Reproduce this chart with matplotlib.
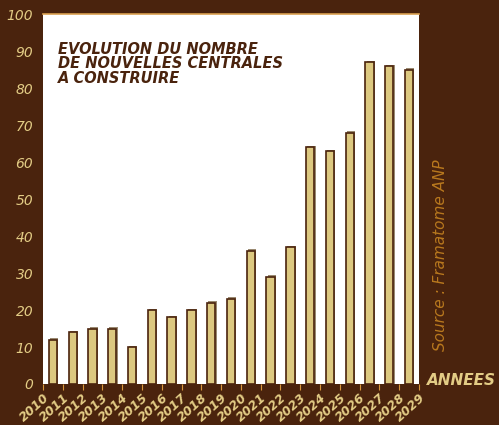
import matplotlib
matplotlib.use("Agg")
import matplotlib.pyplot as plt
import matplotlib.transforms as mtransforms
import numpy as np

YEARS = [str(y) for y in range(2010, 2030)]
VALUES = [12, 14, 15, 15, 10, 20, 18, 20, 22, 23, 36, 29, 37, 64, 63, 68, 87, 86, 85]
Y_TICKS = list(range(0, 101, 10))

BG = "#4a230d"
CREAM = "#e3cc85"
BAR = "#dcc880"
EDGE = "#4a230d"

fig = plt.figure(figsize=(4.99, 4.25), dpi=100, facecolor=BG)
ax = fig.add_axes([0.0862, 0.0965, 0.7535, 0.870])
ax.set_facecolor("white")

x = np.arange(len(VALUES)) + 0.5
# shadow
ax.bar(x + 0.06, np.array(VALUES) + 0.4, width=0.42, color="#9a8a72", zorder=2)
ax.bar(x, VALUES, width=0.42, color=BAR, edgecolor=EDGE, linewidth=1.2, zorder=3)

ax.set_xlim(0, len(VALUES))
ax.set_ylim(0, 100)
ax.set_xticks(np.arange(len(YEARS)))
ax.set_xticklabels(YEARS, rotation=42, ha="right", rotation_mode="anchor",
                   fontsize=9, color=CREAM, fontweight="bold", fontstyle="italic")
shift = mtransforms.ScaledTranslation(7 / 72, 0, fig.dpi_scale_trans)
for lbl in ax.get_xticklabels():
    lbl.set_transform(lbl.get_transform() + shift)
ax.set_yticks(Y_TICKS)
ax.set_yticklabels([str(v) for v in Y_TICKS], fontsize=10, color=CREAM, fontstyle="italic")
ax.tick_params(axis="x", colors="#d9953a", length=4, width=0.8, labelcolor=CREAM, pad=1)
ax.tick_params(axis="y", length=0, pad=7, labelcolor=CREAM)
for s in ["left", "right", "bottom"]:
    ax.spines[s].set_visible(False)
ax.spines["top"].set_color("#d9a050")
ax.spines["top"].set_linewidth(1.2)

ax.text(0.04, 0.925, "EVOLUTION DU NOMBRE\nDE NOUVELLES CENTRALES\nA CONSTRUIRE",
        transform=ax.transAxes, ha="left", va="top", fontsize=10.5,
        fontweight="bold", fontstyle="italic", color=EDGE, linespacing=0.95)

fig.text(0.882, 0.40, "Source : Framatome ANP", rotation=90, ha="center", va="center",
         fontsize=11, fontstyle="italic", color="#b8781e", fontweight="light")
fig.text(0.925, 0.105, "ANNEES", ha="center", va="center", fontsize=11,
         fontweight="bold", fontstyle="italic", color=CREAM)

fig.savefig("out.png", dpi=100, facecolor=BG)
